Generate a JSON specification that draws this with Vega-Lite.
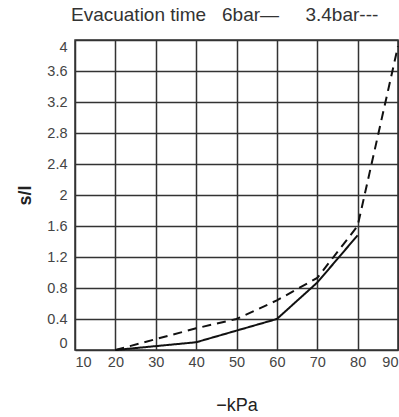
{
  "$schema": "https://vega.github.io/schema/vega-lite/v6.json",
  "width": 323,
  "height": 310,
  "autosize": {"type": "none"},
  "padding": {"left": 75, "top": 40, "right": 1, "bottom": 67},
  "background": "white",
  "title": {
    "text": "Evacuation time\u00a0\u00a0 6bar\u2014\u00a0\u00a0\u00a0\u00a0 3.4bar---",
    "anchor": "start",
    "frame": "group",
    "dx": -4,
    "offset": 14,
    "fontSize": 19,
    "font": "Liberation Sans",
    "fontWeight": "normal",
    "color": "#333333"
  },
  "config": {
    "view": {"stroke": "#333333", "strokeWidth": 1.5},
    "axis": {
      "labelFont": "Liberation Sans",
      "labelFontSize": 14.5,
      "labelColor": "#444444",
      "titleFont": "Liberation Sans",
      "titleColor": "#222222",
      "domain": false,
      "ticks": false,
      "grid": true,
      "gridColor": "#333333",
      "gridWidth": 1.5,
      "gridOpacity": 1,
      "labelFlush": true
    }
  },
  "data": {
    "values": [
      {"kpa": 20, "t": 0.0, "pressure": "6bar"},
      {"kpa": 40, "t": 0.1, "pressure": "6bar"},
      {"kpa": 60, "t": 0.4, "pressure": "6bar"},
      {"kpa": 70, "t": 0.87, "pressure": "6bar"},
      {"kpa": 80, "t": 1.48, "pressure": "6bar"},
      {"kpa": 20, "t": 0.0, "pressure": "3.4bar"},
      {"kpa": 40, "t": 0.28, "pressure": "3.4bar"},
      {"kpa": 50, "t": 0.4, "pressure": "3.4bar"},
      {"kpa": 60, "t": 0.64, "pressure": "3.4bar"},
      {"kpa": 70, "t": 0.93, "pressure": "3.4bar"},
      {"kpa": 80, "t": 1.6, "pressure": "3.4bar"},
      {"kpa": 90, "t": 3.92, "pressure": "3.4bar"}
    ]
  },
  "mark": {"type": "line", "color": "#111111", "strokeWidth": 2},
  "encoding": {
    "x": {
      "field": "kpa",
      "type": "quantitative",
      "scale": {"domain": [10, 90], "nice": false, "zero": false},
      "axis": {
        "values": [10, 20, 30, 40, 50, 60, 70, 80, 90],
        "labelPadding": 5,
        "title": "\u2212kPa",
        "titleFontSize": 18,
        "titleFontWeight": "normal",
        "titlePadding": 28
      }
    },
    "y": {
      "field": "t",
      "type": "quantitative",
      "scale": {"domain": [0, 4], "nice": false},
      "axis": {
        "values": [0, 0.4, 0.8, 1.2, 1.6, 2, 2.4, 2.8, 3.2, 3.6, 4],
        "format": "~g",
        "labelPadding": 8,
        "title": "s/l",
        "titleFontSize": 18,
        "titleFontWeight": "bold",
        "titlePadding": 12
      }
    },
    "detail": {"field": "pressure"},
    "strokeDash": {
      "field": "pressure",
      "type": "nominal",
      "scale": {"domain": ["6bar", "3.4bar"], "range": [[1, 0], [9, 6]]},
      "legend": null
    }
  }
}
